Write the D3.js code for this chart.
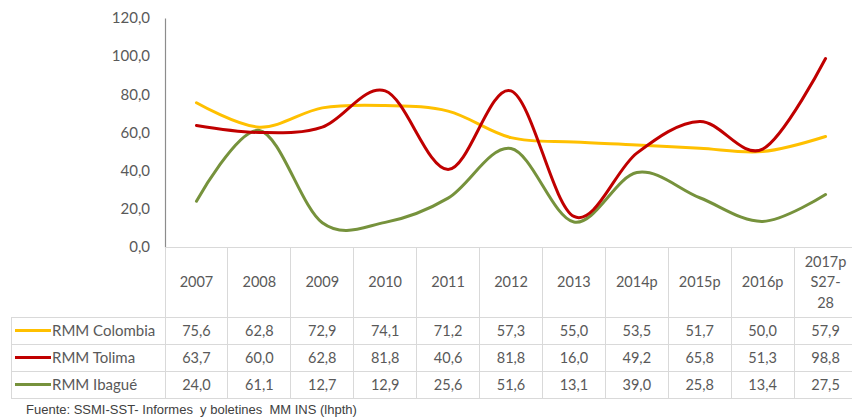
<!DOCTYPE html>
<html>
<head>
<meta charset="utf-8">
<script src="https://cdn.jsdelivr.net/npm/d3@7"></script>
<style>
  html, body { margin: 0; padding: 0; background: #fff; }
  svg { display: block; }
</style>
</head>
<body>
<svg id="chart" width="852" height="418"></svg>
<script>
// ---- data ----
const categories = ["2007","2008","2009","2010","2011","2012","2013","2014p","2015p","2016p","2017p S27-28"];
const categoryLines = [["2007"],["2008"],["2009"],["2010"],["2011"],["2012"],["2013"],["2014p"],["2015p"],["2016p"],["2017p","S27-","28"]];
const seriesNames = ["RMM Colombia","RMM Tolima","RMM Ibagué"];
const colombia = [75.6,62.8,72.9,74.1,71.2,57.3,55.0,53.5,51.7,50.0,57.9];
const tolima   = [63.7,60.0,62.8,81.8,40.6,81.8,16.0,49.2,65.8,51.3,98.8];
const ibague   = [24.0,61.1,12.7,12.9,25.6,51.6,13.1,39.0,25.8,13.4,27.5];
const yTicks = [0,20,40,60,80,100,120];
const seriesColors = ["#FFC000","#C00000","#76923C"];
const sourceText = "Fuente: SSMI-SST- Informes  y boletines  MM INS (lhpth)";

const series = [colombia, tolima, ibague];

const svg = d3.select("#chart");
const plotLeft = 165, plotRight = 857, plotTop = 18, plotBottom = 247;
const headerBottom = 317, rowH = 27, tableLeft = 11;

const x = d3.scaleBand().domain(categories).range([plotLeft, plotRight]).paddingInner(0).paddingOuter(0);
const xc = c => x(c) + x.bandwidth() / 2;
const y = d3.scaleLinear().domain([0, 120]).range([plotBottom, plotTop]);

const fmt = v => d3.format(".1f")(v).replace(".", ",");
const textColor = "#595959";
const gridColor = "#D9D9D9";
const font = "Lato, 'Open Sans', sans-serif";

// Y axis
const yAxis = svg.append("g")
  .attr("transform", `translate(${plotLeft},0)`)
  .call(d3.axisLeft(y).tickValues(yTicks).tickSize(0).tickPadding(15).tickFormat(fmt));
yAxis.select(".domain").attr("stroke", "#8C8C8C").attr("stroke-width", 1.2);
yAxis.selectAll("text").attr("fill", textColor).style("font-family", font).style("font-size", "15px");

// table lines
const tbl = svg.append("g").attr("stroke", gridColor).attr("stroke-width", 1).attr("shape-rendering", "crispEdges");
tbl.append("line").attr("x1", plotLeft).attr("x2", plotRight).attr("y1", plotBottom).attr("y2", plotBottom);
const rowLinesY = d3.range(seriesNames.length + 1).map(i => headerBottom + i * rowH);
tbl.selectAll("line.row").data(rowLinesY).join("line").attr("class", "row")
  .attr("x1", tableLeft).attr("x2", plotRight).attr("y1", d => d).attr("y2", d => d);
const vBounds = categories.map(c => x(c)).concat([plotRight]);
tbl.selectAll("line.col").data(vBounds.slice(1)).join("line").attr("class", "col")
  .attr("x1", d => d).attr("x2", d => d).attr("y1", plotBottom).attr("y2", rowLinesY[rowLinesY.length - 1]);
tbl.append("line").attr("x1", tableLeft).attr("x2", tableLeft).attr("y1", headerBottom).attr("y2", rowLinesY[rowLinesY.length - 1]);
tbl.append("line").attr("x1", plotLeft).attr("x2", plotLeft).attr("y1", plotBottom).attr("y2", rowLinesY[rowLinesY.length - 1]);

// header labels
const headerMid = (plotBottom + headerBottom) / 2;
categories.forEach((c, i) => {
  const lines = categoryLines[i];
  const lh = 20.5;
  const t = svg.append("text")
    .attr("x", xc(c)).attr("text-anchor", "middle")
    .attr("fill", textColor).style("font-family", font).style("font-size", "14.5px");
  lines.forEach((l, j) => {
    t.append("tspan").attr("x", xc(c))
      .attr("y", headerMid + (j - (lines.length - 1) / 2) * lh)
      .attr("dy", "0.35em").text(l);
  });
});

// rows: legend + values
series.forEach((vals, si) => {
  const cy = headerBottom + si * rowH + rowH / 2;
  svg.append("line").attr("x1", 15).attr("x2", 51).attr("y1", cy).attr("y2", cy)
    .attr("stroke", seriesColors[si]).attr("stroke-width", 3);
  svg.append("text").attr("x", 52).attr("y", cy).attr("dy", "0.35em")
    .attr("fill", textColor).style("font-family", font).style("font-size", "15px")
    .text(seriesNames[si]);
  svg.selectAll(null).data(vals).join("text")
    .attr("x", (d, i) => xc(categories[i])).attr("y", cy).attr("dy", "0.35em")
    .attr("text-anchor", "middle").attr("fill", textColor)
    .style("font-family", font).style("font-size", "14.5px")
    .text(d => fmt(d));
});

// lines
const line = d3.line().x((d, i) => xc(categories[i])).y(d => y(d)).curve(d3.curveCardinal.tension(0));
const order = [0, 2, 1];
order.forEach(si => {
  svg.append("path").datum(series[si]).attr("d", line)
    .attr("fill", "none").attr("stroke", seriesColors[si]).attr("stroke-width", 3)
    .attr("stroke-linecap", "round").attr("stroke-linejoin", "round");
});

// source
svg.append("text").attr("x", 26).attr("y", 414)
  .attr("fill", "#404040").style("font-family", "'Liberation Sans', Arial, sans-serif").style("font-size", "13px")
  .style("white-space", "pre").attr("xml:space", "preserve")
  .text(sourceText);
</script>
</body>
</html>
